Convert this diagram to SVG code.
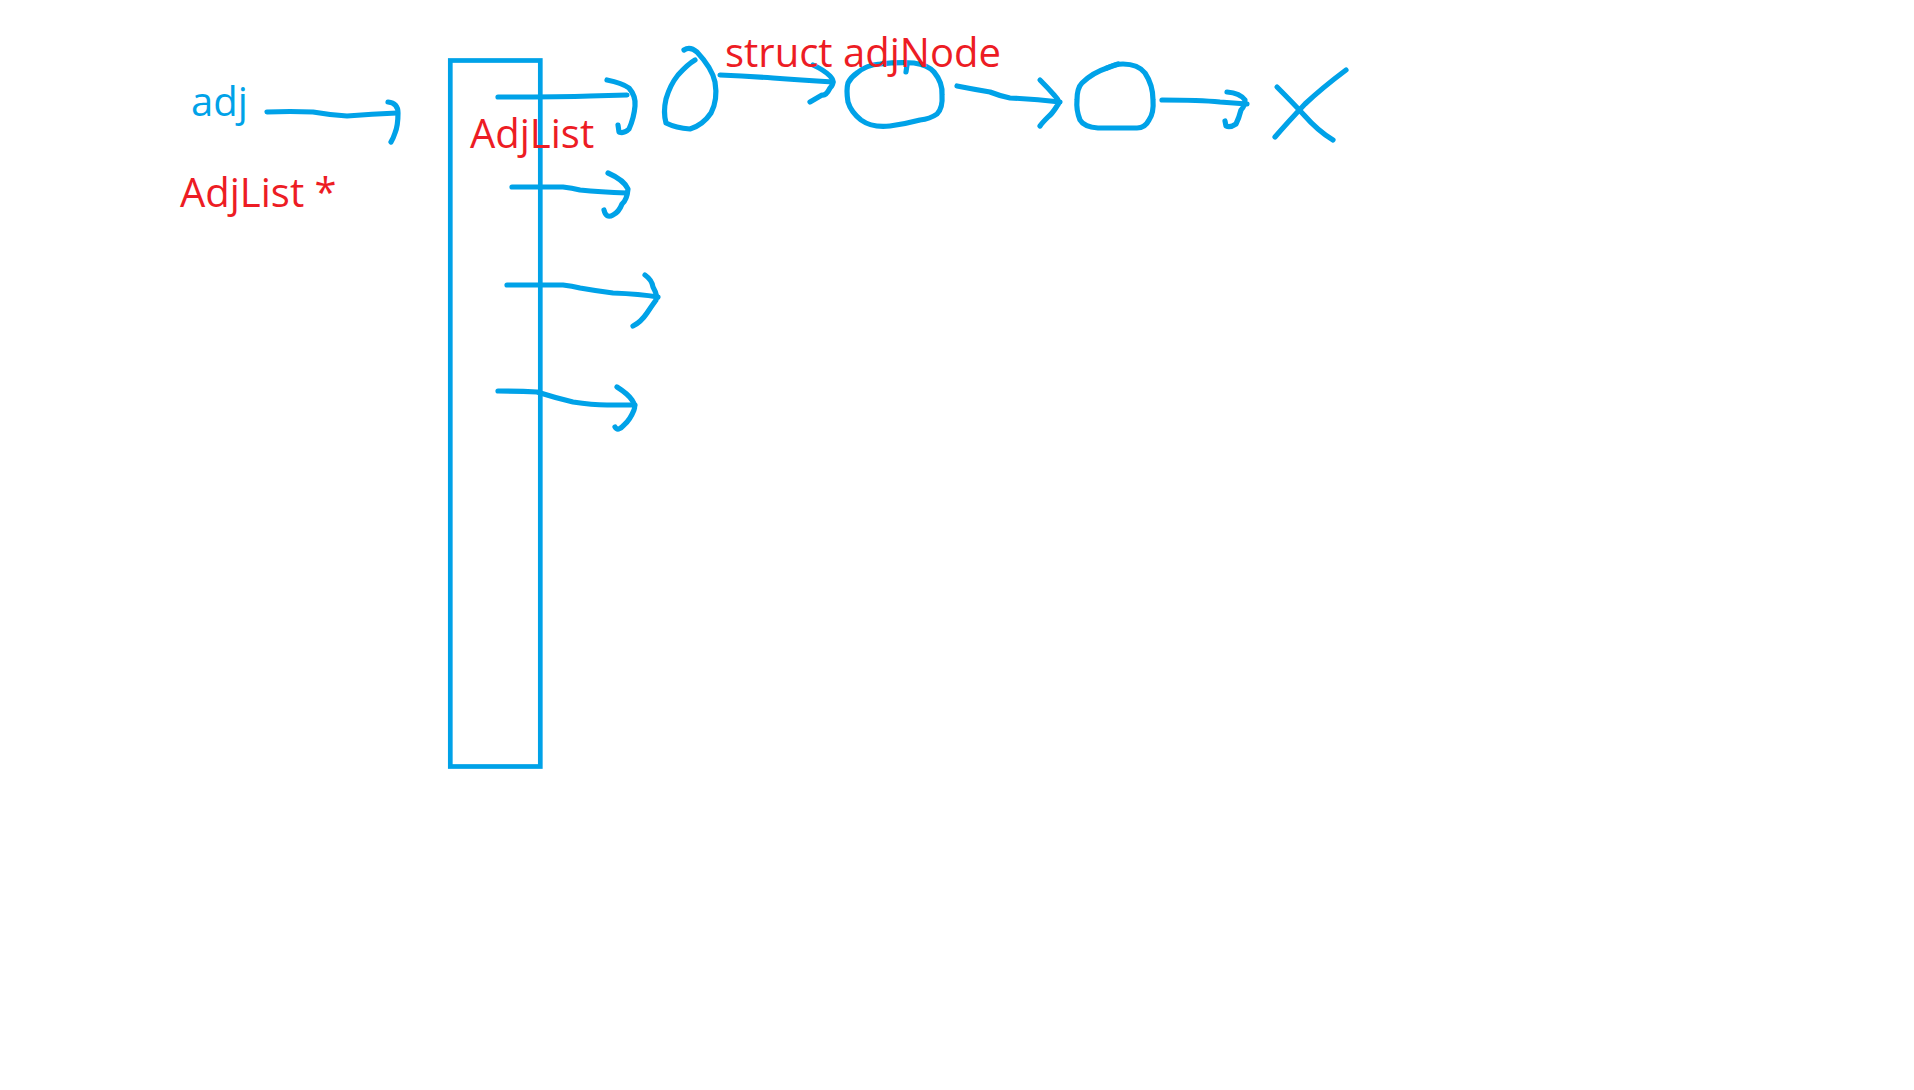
<svg xmlns="http://www.w3.org/2000/svg" width="1914" height="1090" viewBox="0 0 1914 1090">
<style>
.ink{fill:none;stroke:#00A2E8;stroke-width:5.2;stroke-linecap:round;stroke-linejoin:round}
.box{fill:none;stroke:#00A2E8;stroke-width:4.7}
.blue{fill:#00A2E8;font-family:"Open Sans","Noto Sans","Liberation Sans",sans-serif;font-size:40px}
.red{fill:#ED1C24;font-family:"Open Sans","Noto Sans","Liberation Sans",sans-serif;font-size:40px}
</style>
<rect width="1914" height="1090" fill="#ffffff"/>
<g id="label-adj">
<text class="blue" x="191" y="116">adj</text>
<text class="red" x="180" y="207">AdjList *</text>
</g>
<g id="adjlist-array">
<rect class="box" x="450.3" y="60.5" width="90" height="706"/>
<text class="red" x="470" y="148">AdjList</text>
</g>
<g id="node1">
<path class="ink" d="M684,50 Q690,46 697,52 Q712,68 715,82 Q718,100 711,113 Q703,125 690,129 Q676,128 666,123 Q663,112 666,99 Q670,85 678,75 Q688,64 695,60"/>
</g>
<g id="node2">
<path class="ink" d="M857,73 Q866,65 880,64 Q898,62 914,63 Q928,65 934,72 Q943,83 942,95 Q943,108 937,114 Q930,119 920,120 Q905,124 890,126 Q872,128 861,120 Q851,112 848,102 Q846,90 848,83 Q851,77 857,73 Z"/>
<path class="ink" d="M907,65 L906,72"/>
</g>
<g id="node3">
<path class="ink" d="M1082,83 Q1092,73 1107,68 Q1115,64 1123,64 Q1138,64 1145,73 Q1153,85 1153,100 Q1154,113 1149,120 Q1145,128 1137,128 L1098,128 Q1084,127 1080,120 Q1076,110 1077,100 Q1077,88 1082,83 Z"/>
<path class="ink" d="M1107,68 L1118,64"/>
</g>
<g id="null-x">
<path class="ink" d="M1346,70 Q1322,88 1305,104 Q1288,122 1275,137"/>
<path class="ink" d="M1277,87 Q1292,102 1304,115 Q1318,131 1333,140"/>
</g>
<g id="connectors">
<path class="ink" d="M267,112 Q290,111 313,112 Q330,115 347,116 Q372,114 397,113"/>
<path class="ink" d="M388,102 Q398,103 398,113 Q398,126 395,133 Q393,139 391,142"/>
<path class="ink" d="M498,97 Q560,97 590,96 L627,95"/>
<path class="ink" d="M607,80 Q622,83 629,88 Q636,96 635,106 Q634,118 629,129 Q624,134 619,132 L618,125"/>
<path class="ink" d="M512,187 L563,187 Q572,188 580,190 Q600,192 627,193"/>
<path class="ink" d="M608,173 Q624,180 628,189 Q627,200 622,204 Q619,212 613,215 Q606,219 604,210"/>
<path class="ink" d="M507,285 L563,285 Q572,286 580,288 Q597,291 613,293 Q640,294 658,297"/>
<path class="ink" d="M645,275 Q652,280 653,287 Q658,296 656,300 Q651,307 647,313 Q641,322 633,326"/>
<path class="ink" d="M498,391 Q520,391 537,392 Q556,398 573,402 Q592,405 607,405 L635,405"/>
<path class="ink" d="M617,387 Q628,394 632,400 Q636,406 634,410 Q630,420 624,425 Q618,432 615,427"/>
<path class="ink" d="M720,75 Q745,76 773,78 Q800,80 833,82"/>
<path class="ink" d="M813,65 Q824,70 830,76 Q836,82 830,88 Q826,96 822,95 L810,102"/>
<path class="ink" d="M957,86 Q972,89 990,92 Q1000,96 1010,98 Q1035,99 1060,102"/>
<path class="ink" d="M1040,80 Q1048,88 1055,96 Q1061,102 1057,106 Q1052,114 1048,117 Q1042,123 1040,126"/>
<path class="ink" d="M1162,100 Q1200,100 1220,102 L1247,104"/>
<path class="ink" d="M1227,92 Q1240,93 1245,100 Q1245,106 1241,110 Q1239,118 1236,124 Q1230,128 1226,126 L1225,121"/>
</g>
<text class="red" x="725" y="67">struct adjNode</text>
</svg>
